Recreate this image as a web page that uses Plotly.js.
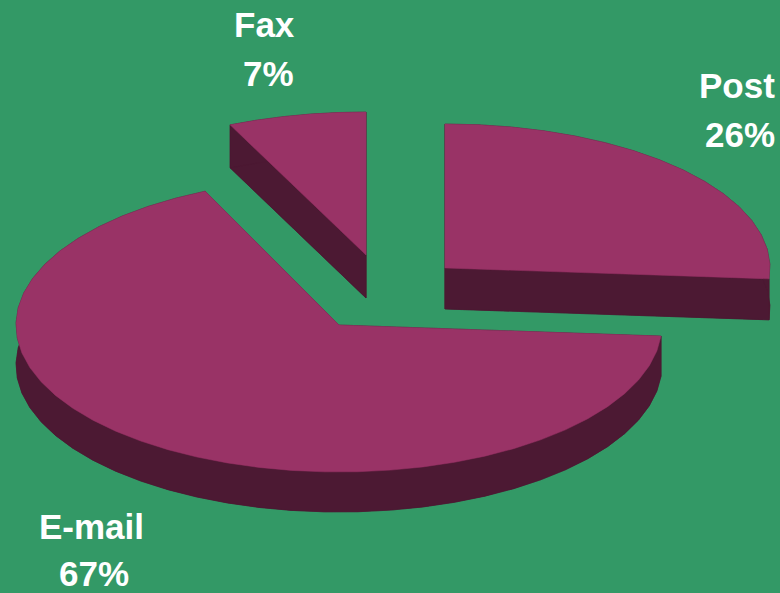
<!DOCTYPE html>
<html>
<head>
<meta charset="utf-8">
<script src="https://cdn.plot.ly/plotly-3.0.1.min.js"></script>
<style>html,body{margin:0;padding:0;background:#339966}#chart{width:780px;height:593px}</style>
</head>
<body>
<div id="chart"></div>
<script>
// Chart data
const categories = ["Post", "E-mail", "Fax"];
const shares = [26.2, 67.0, 6.8];

// Drawing style
const bg = "#339966", topColor = "#993366", sideColor = "#4C1933";
const W = 780, H = 593;
const wedgeCenters = [[445, 268], [339, 325], [366, 255]];
const radii = [[325, 144], [323, 147], [328, 143]];
const depths = [41, 40, 43];
const stepDeg = 6;
const labelPos = [
  {name: [737, 85], pct: [739.5, 134]},
  {name: [91, 526], pct: [93.5, 573]},
  {name: [264, 24.5], pct: [268, 73]}
];

function arc(c, r, a0, a1) {
  const n = Math.max(2, Math.ceil((a1 - a0) / stepDeg));
  const pts = [];
  for (let i = 0; i <= n; i++) {
    const a = (a0 + (a1 - a0) * i / n) * Math.PI / 180;
    pts.push([c[0] + r[0] * Math.sin(a), c[1] - r[1] * Math.cos(a)]);
  }
  return pts;
}
function poly(pts, color) {
  const xs = pts.map(p => p[0]), ys = pts.map(p => p[1]);
  xs.push(xs[0]); ys.push(ys[0]);
  return {type: "scatter", mode: "lines", x: xs, y: ys, fill: "toself", fillcolor: color,
          line: {color: color, width: 0.5}, hoverinfo: "skip", showlegend: false};
}

const total = shares.reduce((a, b) => a + b, 0);
const darkTraces = [], topTraces = [];
let start = 0;
shares.forEach((v, i) => {
  const end = start + v / total * 360;
  const c = wedgeCenters[i], r = radii[i];
  const down = p => [p[0], p[1] + depths[i]];
  const rim = arc(c, r, start, end);
  const first = rim[0], last = rim[rim.length - 1];
  darkTraces.push(poly([c, ...rim].map(down), sideColor));
  darkTraces.push(poly([c, first, down(first), down(c)], sideColor));
  darkTraces.push(poly([c, last, down(last), down(c)], sideColor));
  darkTraces.push(poly([...rim, ...rim.slice().reverse().map(down)], sideColor));
  topTraces.push(poly([c, ...rim], topColor));
  start = end;
});

const font = {family: "Liberation Sans, Arial, sans-serif", size: 35, color: "#ffffff"};
const annotations = [];
categories.forEach((name, i) => {
  const lp = labelPos[i];
  const base = {xref: "x", yref: "y", showarrow: false, font: font, xanchor: "center", yanchor: "middle"};
  annotations.push({...base, x: lp.name[0], y: lp.name[1], text: "<b>" + name + "</b>"});
  annotations.push({...base, x: lp.pct[0], y: lp.pct[1], text: "<b>" + Math.round(shares[i]) + "%</b>"});
});

const layout = {
  width: W, height: H,
  margin: {l: 0, r: 0, t: 0, b: 0},
  paper_bgcolor: bg, plot_bgcolor: bg,
  showlegend: false,
  xaxis: {range: [0, W], visible: false, fixedrange: true},
  yaxis: {range: [H, 0], visible: false, fixedrange: true},
  annotations: annotations
};
Plotly.newPlot("chart", [...darkTraces, ...topTraces], layout, {displayModeBar: false, staticPlot: true});
</script>
</body>
</html>
